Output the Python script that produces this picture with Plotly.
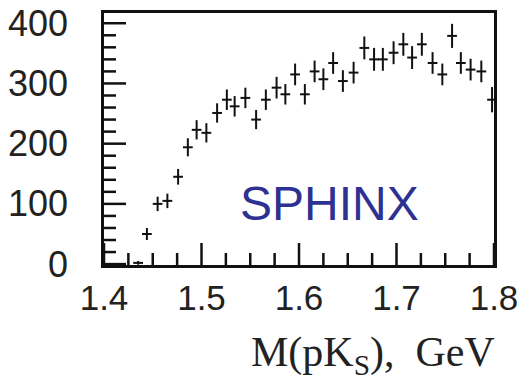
import plotly.graph_objects as go

# Data
mass = [1.435, 1.444, 1.455, 1.465, 1.476, 1.486, 1.495, 1.505, 1.516, 1.526,
        1.534, 1.545, 1.556, 1.566, 1.577, 1.586, 1.596, 1.606, 1.616, 1.625,
        1.635, 1.645, 1.656, 1.667, 1.677, 1.686, 1.697, 1.707, 1.716, 1.726,
        1.737, 1.747, 1.757, 1.766, 1.776, 1.787, 1.798]
counts = [2, 50, 100, 105, 145, 194, 223, 218, 251, 273,
          262, 276, 240, 273, 293, 282, 315, 282, 320, 307,
          334, 304, 318, 359, 340, 340, 351, 365, 343, 365,
          334, 315, 379, 334, 323, 320, 273]
count_err = [3, 10, 12, 12, 13, 15, 16, 16, 16, 17,
             17, 17, 16, 17, 18, 17, 18, 17, 18, 18,
             18, 18, 18, 19, 19, 19, 19, 19, 19, 19,
             18, 18, 20, 18, 18, 18, 21]
bin_half = [0.005] * len(mass)

x_ticks = [1.4, 1.5, 1.6, 1.7, 1.8]
x_tick_text = ["1.4", "1.5", "1.6", "1.7", "1.8"]
y_ticks = [0, 100, 200, 300, 400]
y_tick_text = ["0", "100", "200", "300", "400"]
x_minor_per_major = 4   # minor divisions between labelled x ticks
y_minor_per_major = 5   # minor divisions between labelled y ticks

X_RANGE = [1.4, 1.8]
Y_RANGE = [-1.5, 417]

fig = go.Figure()
fig.add_trace(go.Scatter(
    x=mass, y=counts, mode="markers",
    marker=dict(size=1, color="rgba(0,0,0,0)"),
    error_y=dict(type="data", array=count_err, color="#111", thickness=2, width=0),
    error_x=dict(type="data", array=bin_half, color="#111", thickness=2, width=0),
    showlegend=False, hoverinfo="skip",
))

axis_common = dict(
    showgrid=False, zeroline=False, showline=True, linecolor="#111", linewidth=2.5,
    mirror=True, ticks="", automargin=False,
)

# inside tick marks (drawn as pixel-length shapes anchored on the axes)
TICK_MAJOR, TICK_MINOR, TICK_COLOR, TICK_W = 22, 12, "#111", 2.5
shapes = []
for i, xv in enumerate(x_ticks):
    shapes.append(dict(type="line", xref="x", yref="paper", ysizemode="pixel", yanchor=0,
                       x0=xv, x1=xv, y0=0, y1=TICK_MAJOR, layer="above",
                       line=dict(color=TICK_COLOR, width=TICK_W)))
    if i + 1 < len(x_ticks):
        step = (x_ticks[i + 1] - xv) / x_minor_per_major
        for k in range(1, x_minor_per_major):
            xm = xv + k * step
            shapes.append(dict(type="line", xref="x", yref="paper", ysizemode="pixel",
                               yanchor=0, x0=xm, x1=xm, y0=0, y1=TICK_MINOR, layer="above",
                               line=dict(color=TICK_COLOR, width=TICK_W)))
for i, yv in enumerate(y_ticks):
    shapes.append(dict(type="line", xref="paper", yref="y", xsizemode="pixel", xanchor=0,
                       x0=0, x1=TICK_MAJOR, y0=yv, y1=yv, layer="above",
                       line=dict(color=TICK_COLOR, width=TICK_W)))
    if i + 1 < len(y_ticks):
        step = (y_ticks[i + 1] - yv) / y_minor_per_major
        for k in range(1, y_minor_per_major):
            ym = yv + k * step
            shapes.append(dict(type="line", xref="paper", yref="y", xsizemode="pixel",
                               xanchor=0, x0=0, x1=TICK_MINOR, y0=ym, y1=ym, layer="above",
                               line=dict(color=TICK_COLOR, width=TICK_W)))

fig.update_layout(
    width=524, height=385,
    margin=dict(l=104, r=30, t=13, b=120),
    paper_bgcolor="white", plot_bgcolor="white",
    xaxis=dict(range=X_RANGE, tickvals=x_ticks, ticktext=x_tick_text,
               tickfont=dict(family="Liberation Sans, Arial", size=35, color="#222"),
               **axis_common),
    yaxis=dict(range=Y_RANGE, tickvals=y_ticks, ticktext=y_tick_text,
               tickfont=dict(family="Liberation Sans, Arial", size=36, color="#222"),
               ticklabelstandoff=26,
               **axis_common),
    shapes=shapes,
    annotations=[
        dict(text="SPHINX", xref="paper", yref="paper", x=0.344, y=0.131,
             xanchor="left", yanchor="bottom", showarrow=False,
             font=dict(family="Liberation Sans, Arial", size=48, color="#2e3192")),
        dict(text="M(pK<sub>S</sub>),  GeV", xref="paper", yref="paper", x=1.008, y=-0.245,
             xanchor="right", yanchor="top", showarrow=False,
             font=dict(family="Liberation Serif, Times New Roman", size=42, color="#222")),
    ],
)

fig.write_html("out.html")
